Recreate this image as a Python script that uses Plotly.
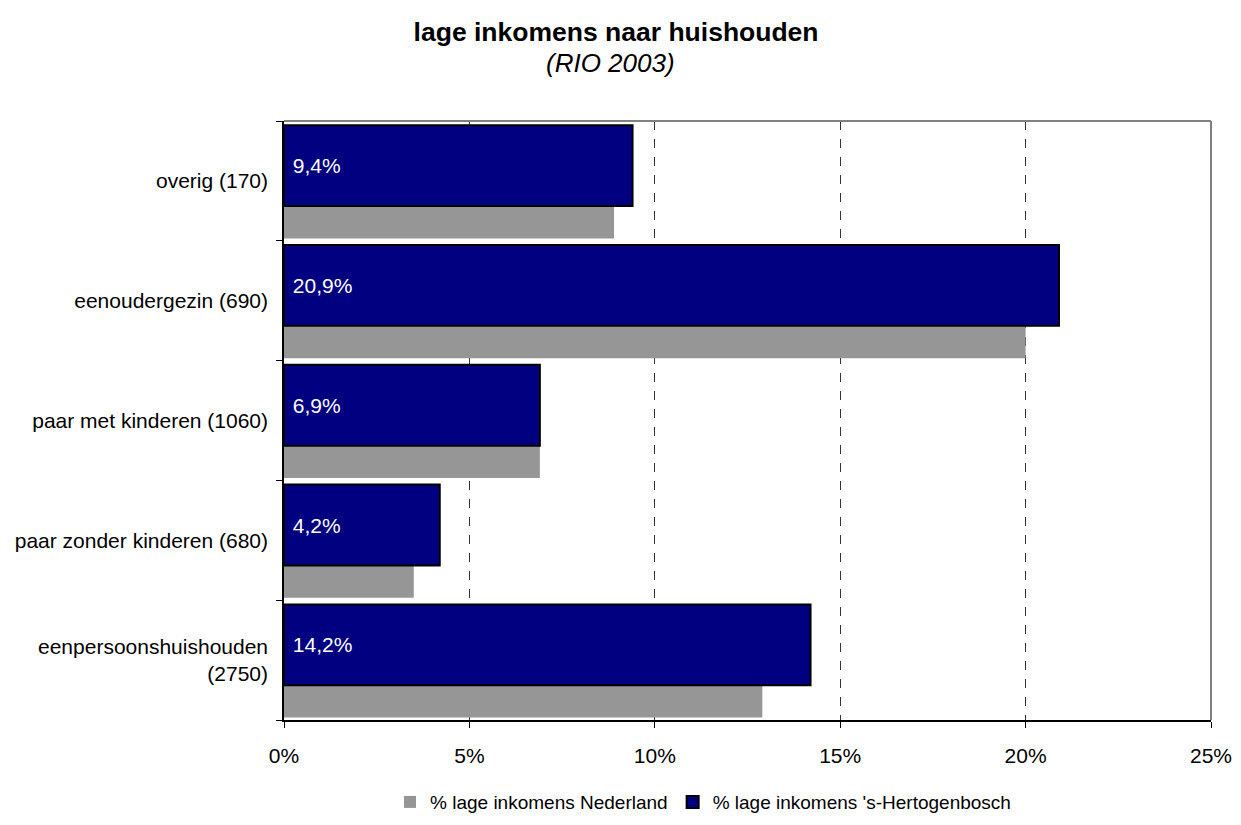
import plotly.graph_objects as go

# ---------------------------------------------------
# Data (bottom to top, as on the chart)
# ---------------------------------------------------
categories = [
    "eenpersoonshuishouden<br>(2750)",
    "paar zonder kinderen (680)",
    "paar met kinderen (1060)",
    "eenoudergezin (690)",
    "overig (170)",
]
pct_nederland = [12.9, 3.5, 6.9, 20.0, 8.9]
pct_den_bosch = [14.2, 4.2, 6.9, 20.9, 9.4]
x_ticks = [0, 5, 10, 15, 20, 25]
x_tick_labels = ["0%", "5%", "10%", "15%", "20%", "25%"]

FONT = "Arial, Liberation Sans, sans-serif"
GREY = "#969696"
NAVY = "#000080"

fig = go.Figure()

fig.add_trace(go.Bar(
    y=categories,
    x=pct_nederland,
    orientation="h",
    name="% lage inkomens Nederland",
    marker=dict(color=GREY, line=dict(width=0)),
    offset=-0.48,
    width=0.67,
    hoverinfo="x",
))

fig.add_trace(go.Bar(
    y=categories,
    x=pct_den_bosch,
    orientation="h",
    name="% lage inkomens 's-Hertogenbosch",
    marker=dict(color=NAVY, line=dict(color="black", width=2)),
    offset=-0.21,
    width=0.675,
    text=["\u00a0" + f"{v:.1f}%".replace(".", ",") for v in pct_den_bosch],
    textposition="inside",
    insidetextanchor="start",
    textfont=dict(color="white", size=21, family=FONT),
    hoverinfo="x",
))

fig.update_layout(
    width=1241,
    height=825,
    barmode="overlay",
    plot_bgcolor="white",
    paper_bgcolor="white",
    font=dict(family=FONT, size=21, color="black"),
    margin=dict(l=276, r=38, t=113, b=101),
    title=dict(
        text="<b>lage inkomens naar huishouden</b>",
        x=0.49,
        xanchor="center",
        y=0.971,
        yanchor="middle",
        font=dict(size=26.5, family=FONT, color="black"),
    ),
    legend=dict(
        orientation="h",
        x=0.452,
        xanchor="center",
        y=-0.137,
        yanchor="middle",
        font=dict(size=19),
        traceorder="normal",
        itemwidth=30,
    ),
    showlegend=True,
)

fig.add_annotation(
    text="<i>(RIO 2003)</i>",
    xref="paper", yref="paper",
    x=0.352, y=1.097,
    xanchor="center", yanchor="middle",
    showarrow=False,
    font=dict(size=26, family=FONT, color="black"),
)

fig.update_xaxes(
    range=[0, 25],
    tickvals=x_ticks,
    ticktext=x_tick_labels,
    showgrid=True,
    gridcolor="#333333",
    griddash="dash",
    gridwidth=1,
    showline=True,
    linecolor="black",
    linewidth=1.5,
    ticks="outside",
    ticklen=6,
    tickcolor="black",
    ticklabelstandoff=10,
    zeroline=False,
    automargin=False,
    fixedrange=True,
)

fig.update_yaxes(
    categoryorder="array",
    categoryarray=categories,
    tickson="boundaries",
    ticks="outside",
    ticklen=6,
    tickcolor="black",
    showline=True,
    linecolor="black",
    linewidth=1.5,
    showgrid=False,
    ticklabelstandoff=10,
    automargin=False,
    fixedrange=True,
)

# grey frame on top and right
fig.add_shape(type="line", xref="paper", yref="paper", x0=0, x1=1, y0=1, y1=1,
              line=dict(color="#808080", width=2))
fig.add_shape(type="line", xref="paper", yref="paper", x0=1, x1=1, y0=0, y1=1,
              line=dict(color="#808080", width=2))

fig.write_html("out.html")
